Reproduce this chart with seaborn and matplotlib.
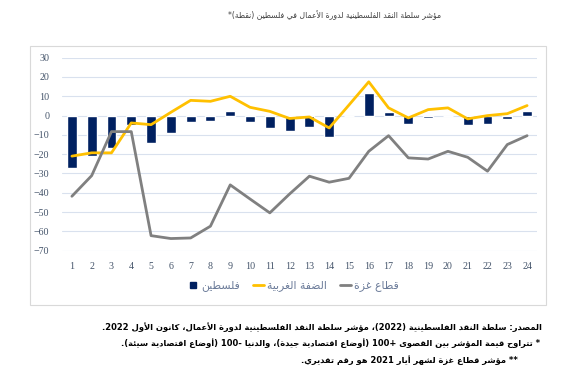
import re
import numpy as np
import pandas as pd
import matplotlib
matplotlib.use("Agg")
import matplotlib.pyplot as plt
from matplotlib.lines import Line2D
from matplotlib.patches import Rectangle
import seaborn as sns

# ---------------- data ----------------
months = [str(m) for m in range(1, 25)]
palestine = [-27, -21, -17, -5, -14, -9, -3.5, -3, 2.5, -3.5, -6.5, -8,
             -6, -11, -0.3, 11.7, 1.7, -4.5, -1, -0.3, -5, -4.3, -1.7, 2.6]
west_bank = [-21, -19.3, -19.3, -3.8, -4.7, 1.7, 7.9, 7.4, 10, 4.3, 2.2, -1.5,
             -0.7, -6.4, 5.5, 17.5, 4, -1.2, 3.1, 4, -1.7, 0, 1, 5.2]
gaza = [-41.8, -31.1, -8.3, -8.3, -62.2, -63.7, -63.4, -57.3, -35.9, -43.2, -50.4, -40.6,
        -31.4, -34.5, -32.5, -18.5, -10.4, -21.9, -22.5, -18.5, -21.6, -28.8, -15, -10.4]
y_ticks = [30, 20, 10, 0, -10, -20, -30, -40, -50, -60, -70]

title = "مؤشر سلطة النقد الفلسطينية لدورة الأعمال في فلسطين (نقطة)*"
legend_labels = ["فلسطين", "الضفة الغربية", "قطاع غزة"]
notes = [
    "المصدر: سلطة النقد الفلسطينية (2022)، مؤشر سلطة النقد الفلسطينية لدورة الأعمال، كانون الأول 2022.",
    "* تتراوح قيمة المؤشر بين القصوى +100 (أوضاع اقتصادية جيدة)، والدنيا -100 (أوضاع اقتصادية سيئة).",
    "** مؤشر قطاع غزة لشهر أيار 2021 هو رقم تقديري.",
]

# ---------------- minimal Arabic shaping + RTL ordering ----------------
FORMS = {}
for ch, base in [("آ", 0xFE81), ("أ", 0xFE83), ("ؤ", 0xFE85), ("إ", 0xFE87), ("ا", 0xFE8D),
                 ("ة", 0xFE93), ("د", 0xFEA9), ("ذ", 0xFEAB), ("ر", 0xFEAD), ("ز", 0xFEAF),
                 ("و", 0xFEED), ("ى", 0xFEEF)]:
    FORMS[ch] = (chr(base), chr(base + 1))
for ch, base in [("ئ", 0xFE89), ("ب", 0xFE8F), ("ت", 0xFE95), ("ث", 0xFE99), ("ج", 0xFE9D),
                 ("ح", 0xFEA1), ("خ", 0xFEA5), ("س", 0xFEB1), ("ش", 0xFEB5), ("ص", 0xFEB9),
                 ("ض", 0xFEBD), ("ط", 0xFEC1), ("ظ", 0xFEC5), ("ع", 0xFEC9), ("غ", 0xFECD),
                 ("ف", 0xFED1), ("ق", 0xFED5), ("ك", 0xFED9), ("ل", 0xFEDD), ("م", 0xFEE1),
                 ("ن", 0xFEE5), ("ه", 0xFEE9), ("ي", 0xFEF1)]:
    FORMS[ch] = tuple(chr(base + i) for i in range(4))
LAMALEF = {"آ": 0xFEF5, "أ": 0xFEF7, "إ": 0xFEF9, "ا": 0xFEFB}


def shape(text):
    toks = []
    i = 0
    while i < len(text):
        c = text[i]
        if c == "ل" and i + 1 < len(text) and text[i + 1] in LAMALEF:
            toks.append(("LA", text[i + 1]))
            i += 2
        else:
            toks.append(c)
            i += 1

    def jt(t):
        if isinstance(t, tuple):
            return "R"
        if t in FORMS:
            return "D" if len(FORMS[t]) == 4 else "R"
        return "U"

    out = []
    for k, t in enumerate(toks):
        j = jt(t)
        prev = jt(toks[k - 1]) if k > 0 else "U"
        nxt = jt(toks[k + 1]) if k + 1 < len(toks) else "U"
        cp = j != "U" and prev == "D"
        cn = j == "D" and nxt in ("D", "R")
        if isinstance(t, tuple):
            out.append(chr(LAMALEF[t[1]] + (1 if cp else 0)))
        elif j == "U":
            out.append(t)
        else:
            f = FORMS[t]
            if cp and cn:
                out.append(f[3])
            elif cn:
                out.append(f[2])
            elif cp:
                out.append(f[1])
            else:
                out.append(f[0])
    return "".join(out)


MIRROR = {"(": ")", ")": "("}


def rtl(text):
    s = shape(text)
    parts = re.split(r"(\d+)", s)
    out = []
    for i, p in enumerate(parts):
        if i % 2 == 1:
            out.append(p)
        else:
            out.append("".join(MIRROR.get(c, c) for c in reversed(p)))
    return "".join(reversed(out))


# ---------------- style ----------------
sns.set_style("white")
plt.rcParams["font.family"] = ["DejaVu Sans"]

NAVY = "#002060"
YELLOW = "#FFC000"
GRAY = "#808080"
GRID = "#D9E1EE"
TICK = "#44546A"

df = pd.DataFrame({"month": months, "palestine": palestine,
                   "west_bank": west_bank, "gaza": gaza})
df["pos"] = np.arange(len(df))

fig = plt.figure(figsize=(5.7, 3.9), dpi=100)
ax = fig.add_axes([62 / 570, 1 - 250.7 / 390, (537 - 62) / 570, (250.7 - 57.7) / 390])

sns.barplot(data=df, x="month", y="palestine", order=months, color=NAVY,
            width=0.5, saturation=1, ax=ax, zorder=2)
sns.lineplot(data=df, x="pos", y="west_bank", color=YELLOW, linewidth=2.0,
             ax=ax, zorder=3)
sns.lineplot(data=df, x="pos", y="gaza", color=GRAY, linewidth=2.0,
             ax=ax, zorder=4)

ax.set_xlim(-0.5, len(months) - 0.5)
ax.set_ylim(-70, 30)
ax.set_yticks(y_ticks)
ax.set_xticks(range(len(months)))
ax.set_xticklabels(months)
ax.set_xlabel("")
ax.set_ylabel("")
ax.grid(axis="y", color=GRID, linewidth=0.8, zorder=0)
ax.set_axisbelow(True)
for sp in ax.spines.values():
    sp.set_visible(False)
ax.tick_params(axis="both", length=0, labelsize=7.2, labelcolor=TICK)
ax.tick_params(axis="y", pad=9)
ax.tick_params(axis="x", pad=8)
for lab in ax.get_xticklabels() + ax.get_yticklabels():
    lab.set_fontfamily("Liberation Serif")

# chart frame
fig.patches.append(Rectangle((30 / 570, 1 - 305 / 390), (546 - 30) / 570, (305 - 46) / 390,
                             transform=fig.transFigure, fill=False,
                             edgecolor="#D9D9D9", linewidth=0.8))

# legend
handles = [
    Line2D([], [], color=NAVY, marker="s", linestyle="none", markersize=5),
    Line2D([], [], color=YELLOW, linewidth=2.0),
    Line2D([], [], color=GRAY, linewidth=2.0),
]
fig.legend(handles, [rtl(l) for l in legend_labels], loc="center",
           bbox_to_anchor=(293 / 570, 1 - 286 / 390), ncol=3, frameon=False,
           fontsize=7.8, labelcolor="#6B7B99", handlelength=1.0,
           handletextpad=0.3, columnspacing=1.2)

# title
fig.text(335 / 570, 1 - 15 / 390, rtl(title), ha="center", va="center",
         fontsize=5.6, color="#404040")

# footnotes
fig.text(542 / 570, 1 - 327 / 390, rtl(notes[0]), ha="right", va="center",
         fontsize=6.0, fontweight="bold", color="black")
fig.text(540 / 570, 1 - 343 / 390, rtl(notes[1]), ha="right", va="center",
         fontsize=6.0, fontweight="bold", color="black")
fig.text(518 / 570, 1 - 360 / 390, rtl(notes[2]), ha="right", va="center",
         fontsize=6.0, fontweight="bold", color="black")

fig.savefig("out.png", dpi=100)
